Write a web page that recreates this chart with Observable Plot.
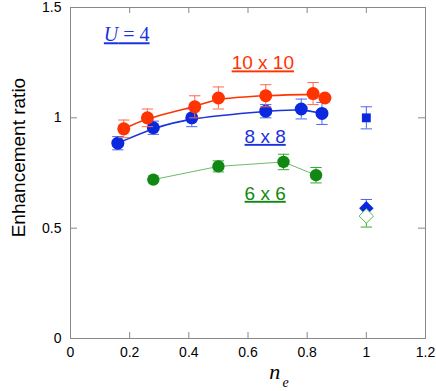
<!DOCTYPE html>
<html>
<head>
<meta charset="utf-8">
<script src="https://cdn.jsdelivr.net/npm/d3@7"></script>
<script src="https://cdn.jsdelivr.net/npm/@observablehq/plot@0.6"></script>
<style>
  body { margin: 0; background: #fff; }
  #chart svg { display: block; }
</style>
</head>
<body>
<div id="chart"></div>
<script>
// 10 x 10 lattice
const redX   = [0.18, 0.26, 0.42, 0.50, 0.66, 0.82, 0.86];
const redY   = [0.95, 1.00, 1.05, 1.09, 1.10, 1.11, 1.09];
const redErr = [0.04, 0.04, 0.05, 0.05, 0.05, 0.05, 0.00];
// 8 x 8 lattice
const blueX   = [0.16, 0.28, 0.41, 0.66, 0.78, 0.85];
const blueY   = [0.885, 0.955, 1.00, 1.03, 1.04, 1.02];
const blueErr = [0.03, 0.03, 0.04, 0.03, 0.045, 0.05];
// 6 x 6 lattice
const greenX   = [0.28, 0.50, 0.72, 0.83];
const greenY   = [0.72, 0.78, 0.80, 0.74];
const greenErr = [0.00, 0.025, 0.035, 0.035];
// half filling (n_e = 1)
const squareX = [1.0], squareY = [1.0], squareErr = [0.05];
const blueDiamondX = [1.0], blueDiamondY = [0.59], blueDiamondErr = [0.04];
const greenDiamondX = [1.0], greenDiamondY = [0.555], greenDiamondErr = [0.05];

const xTicks = [0, 0.2, 0.4, 0.6, 0.8, 1, 1.2];
const yTicks = [0, 0.5, 1, 1.5];

const labels = [
  {x: 0.19,  y: 1.376, text: "U = 4",   color: "#1a33dd", font: "'Liberation Serif', 'DejaVu Serif', serif", size: 20},
  {x: 0.650, y: 1.247, text: "10 x 10", color: "#ff3300", font: "'Liberation Sans', Arial, sans-serif", size: 19},
  {x: 0.658, y: 0.914, text: "8 x 8",   color: "#1a33dd", font: "'Liberation Sans', Arial, sans-serif", size: 19},
  {x: 0.658, y: 0.656, text: "6 x 6",   color: "#118811", font: "'Liberation Sans', Arial, sans-serif", size: 19}
];

const zip = (xs, ys, es) => xs.map((x, i) => ({x, y: ys[i], e: es[i]}));
const red = zip(redX, redY, redErr);
const blue = zip(blueX, blueY, blueErr);
const green = zip(greenX, greenY, greenErr);
const square = zip(squareX, squareY, squareErr);
const bDia = zip(blueDiamondX, blueDiamondY, blueDiamondErr);
const gDia = zip(greenDiamondX, greenDiamondY, greenDiamondErr);

const cap = {draw(ctx, size) { const r = Math.sqrt(size); ctx.moveTo(-r, 0); ctx.lineTo(r, 0); }};

function errBars(data, color, upOnly = false, downOnly = false) {
  const d = data.filter(p => p.e > 0);
  const lo = p => upOnly ? p.y : p.y - p.e;
  const hi = p => downOnly ? p.y : p.y + p.e;
  const marks = [Plot.ruleX(d, {x: "x", y1: lo, y2: hi, stroke: color, strokeWidth: 1})];
  if (!downOnly) marks.push(Plot.dot(d, {x: "x", y: p => p.y + p.e, symbol: cap, r: 3.2, stroke: color, strokeWidth: 1}));
  if (!upOnly) marks.push(Plot.dot(d, {x: "x", y: p => p.y - p.e, symbol: cap, r: 3.2, stroke: color, strokeWidth: 1}));
  return marks;
}

const W = 436, H = 391, mT = 7, mB = 53, mL = 70, mR = 11;
const pw = W - mL - mR, ph = H - mT - mB;
const axisColor = "#888";

const chart = Plot.plot({
  width: W, height: H,
  marginTop: mT, marginBottom: mB, marginLeft: mL, marginRight: mR,
  style: {fontFamily: "'Liberation Sans', Arial, sans-serif", fontSize: "14px", color: "#000", background: "#fff"},
  x: {domain: [0, 1.2], axis: null},
  y: {domain: [0, 1.5], axis: null},
  marks: [
    Plot.frame({stroke: axisColor, strokeWidth: 1}),
    // inward ticks on all four sides
    Plot.tickX(xTicks, {x: d => d, stroke: axisColor, insetTop: ph - 6}),
    Plot.tickX(xTicks, {x: d => d, stroke: axisColor, insetBottom: ph - 6}),
    Plot.tickY(yTicks, {y: d => d, stroke: axisColor, insetRight: pw - 7}),
    Plot.tickY(yTicks, {y: d => d, stroke: axisColor, insetLeft: pw - 7}),
    Plot.axisX(xTicks, {label: null, tickSize: 0, tickPadding: 9, tickFormat: d => String(d), fontSize: 14, fill: "#000"}),
    Plot.axisY(yTicks, {label: null, tickSize: 0, tickPadding: 9, tickFormat: d => String(d), fontSize: 14, fill: "#000"}),
    Plot.text(["Enhancement ratio"], {frameAnchor: "left", y: () => 0.82, dx: -52, rotate: -90, textAnchor: "middle", fontSize: 19, fill: "#000"}),
    Plot.text(["n"], {x: () => 0.69, y: () => -0.15, fontSize: 22, fontStyle: "italic", fontFamily: "'Liberation Serif', serif", fill: "#000"}),
    Plot.text(["e"], {x: () => 0.69, y: () => -0.15, dx: 11, dy: 11, fontSize: 14, fontStyle: "italic", fontFamily: "'Liberation Serif', serif", fill: "#000"}),

    // green 6x6
    Plot.line(green, {x: "x", y: "y", stroke: "#44aa44", strokeWidth: 0.8}),
    ...errBars(green, "#33aa33"),
    Plot.dot(green, {x: "x", y: "y", r: 6.2, fill: "#118811"}),

    // blue 8x8
    Plot.line(blue, {x: "x", y: "y", curve: "basis", stroke: "#1a33dd", strokeWidth: 1.6}),
    ...errBars(blue, "#4f66ee"),
    Plot.dot(blue, {x: "x", y: "y", r: 6.5, fill: "#0a28dd"}),

    // red 10x10
    Plot.line(red, {x: "x", y: "y", curve: "basis", stroke: "#ff3300", strokeWidth: 1.6}),
    ...errBars(red, "#ff6a50"),
    Plot.dot(red, {x: "x", y: "y", r: 6.5, fill: "#ff3300"}),

    // n_e = 1
    ...errBars(square, "#4f66ee"),
    Plot.dot(square, {x: "x", y: "y", symbol: "square", r: 5, fill: "#0a28dd"}),
    ...errBars(bDia, "#4f66ee", true),
    Plot.dot(bDia, {x: "x", y: "y", symbol: "diamond2", r: 6.5, fill: "#0a28dd"}),
    ...errBars(gDia, "#33aa33", false, true),
    Plot.dot(gDia, {x: "x", y: "y", symbol: "diamond2", r: 6.5, fill: "#fff", stroke: "#55bb55", strokeWidth: 1}),

    // labels
    Plot.text(labels, {x: "x", y: "y", text: "text", fill: "color", fontSize: 19})
  ]
});

const svg = d3.select(chart);
svg.selectAll("text").each(function() {
  const t = this.textContent;
  const lab = labels.find(l => l.text === t);
  if (lab) {
    const el = d3.select(this);
    el.style("text-decoration", "underline").attr("font-size", lab.size).attr("font-family", lab.font);
    if (t === "U = 4") {
      el.text(null);
      el.append("tspan").attr("font-style", "italic").text("U");
      el.append("tspan").text(" = 4");
    }
  }
});
document.getElementById("chart").appendChild(chart);
</script>
</body>
</html>
